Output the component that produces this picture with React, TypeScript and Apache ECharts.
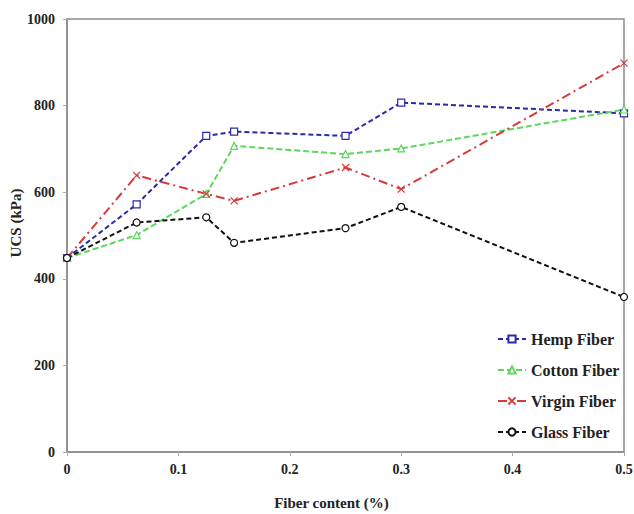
import React, { useEffect, useRef } from "react";
import * as echarts from "echarts";

const fiberContent = [0, 0.0625, 0.125, 0.15, 0.25, 0.3, 0.5];
const hemp = [448, 572, 730, 740, 730, 807, 782];
const cotton = [448, 501, 596, 707, 688, 701, 791];
const virgin = [448, 639, 596, 580, 657, 607, 898];
const glass = [448, 530, 542, 483, 517, 566, 358];
const seriesNames = ["Hemp Fiber", "Cotton Fiber", "Virgin Fiber", "Glass Fiber"];
const yTitle = "UCS (kPa)";
const xTitle = "Fiber content (%)";

const FONT = "Liberation Serif";

export default function App() {
  const ref = useRef<HTMLDivElement>(null);
  useEffect(() => {
    if (!ref.current) return;
    const chart = echarts.init(ref.current, null, { renderer: "svg" });
    const pair = (ys: number[]) => fiberContent.map((x, i) => [x, ys[i]]);
    const mk = (
      name: string,
      ys: number[],
      color: string,
      symbol: string,
      type: any,
      fill: string
    ) => ({
      name,
      type: "line",
      data: pair(ys),
      symbol,
      symbolSize: 7,
      showAllSymbol: true,
      lineStyle: { color, width: 2, type },
      itemStyle: { color: fill, borderColor: color, borderWidth: 1.2 },
    });
    const txt = { fontFamily: FONT, fontWeight: "bold", fontSize: 14, color: "#222" };
    chart.setOption({
      animation: false,
      backgroundColor: "#fff",
      grid: {
        left: 67,
        right: 10,
        top: 19,
        bottom: 62,
        show: true,
        borderColor: "#8c8c8c",
        borderWidth: 1.5,
        containLabel: false,
        outerBoundsMode: "none",
      },
      graphic: [
        {
          type: "text",
          x: 16,
          y: 223,
          rotation: Math.PI / 2,
          style: {
            text: yTitle,
            fontFamily: FONT,
            fontWeight: "bold",
            fontSize: 15,
            fill: "#222",
            align: "center",
            verticalAlign: "middle",
          },
        },
      ],
      legend: {
        orient: "vertical",
        left: 492,
        top: 326,
        itemWidth: 28,
        itemHeight: 9,
        itemGap: 15,
        data: seriesNames,
        textStyle: { ...txt, fontSize: 16 },
      },
      xAxis: {
        type: "value",
        min: 0,
        max: 0.5,
        interval: 0.1,
        name: xTitle,
        nameLocation: "middle",
        nameGap: 43,
        nameTextStyle: { ...txt, fontSize: 15, padding: [0, 28, 0, 0] },
        axisLine: { show: true, lineStyle: { color: "#8c8c8c", width: 1.5 } },
        axisTick: { show: true, length: 4, lineStyle: { color: "#aaa" } },
        axisLabel: {
          ...txt,
          margin: 10,
          formatter: (v: number) => String(Math.round(v * 10) / 10),
        },
        splitLine: { show: false },
      },
      yAxis: {
        type: "value",
        min: 0,
        max: 1000,
        interval: 200,
        axisLine: { show: true, lineStyle: { color: "#8c8c8c", width: 1.5 } },
        axisTick: { show: true, length: 4, lineStyle: { color: "#aaa" } },
        axisLabel: { ...txt, margin: 12, formatter: (v: number) => String(v) },
        splitLine: { show: false },
      },
      series: [
        mk(seriesNames[0], hemp, "#2a2aa8", "rect", [5, 3], "#fff"),
        mk(seriesNames[1], cotton, "#5cd65c", "triangle", [6, 3], "#fff"),
        mk(seriesNames[2], virgin, "#d63a3a", "path://M0,0L10,10M10,0L0,10", [9, 4, 2, 4], "none"),
        mk(seriesNames[3], glass, "#111", "circle", [5, 3], "#fff"),
      ],
    });
    return () => chart.dispose();
  }, []);
  return <div ref={ref} style={{ width: 634, height: 514, position: "absolute", left: 0, top: 0 }} />;
}
